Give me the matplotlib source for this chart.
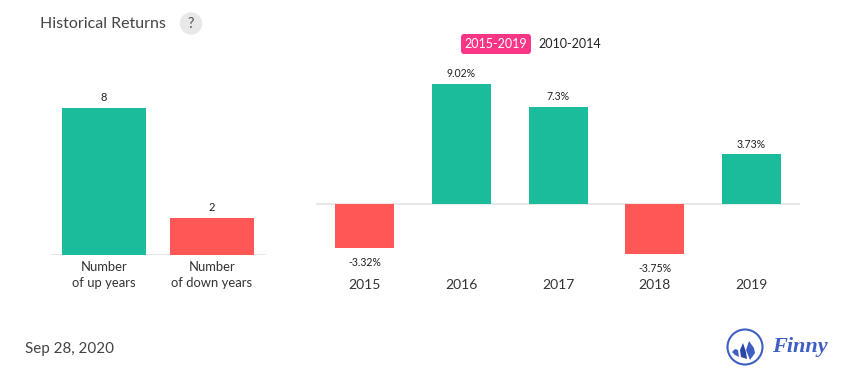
import matplotlib
matplotlib.use('Agg')
import matplotlib.pyplot as plt
from matplotlib.patches import Circle, FancyBboxPatch, Polygon

plt.rcParams['font.family'] = ['Lato', 'DejaVu Sans']

count_labels = ['Number\nof up years', 'Number\nof down years']
count_values = [8, 2]
years = ['2015', '2016', '2017', '2018', '2019']
returns = [-3.32, 9.02, 7.3, -3.75, 3.73]
return_labels = ['-3.32%', '9.02%', '7.3%', '-3.75%', '3.73%']

GREEN = '#1abc9c'
RED = '#ff5656'
GRID = '#e8e8e8'
W, H = 855, 382


def px_axes(fig, x0, y0, x1, y1):
    """Axes placed by pixel box, y measured from the top of the image."""
    ax = fig.add_axes([x0 / W, 1 - y1 / H, (x1 - x0) / W, (y1 - y0) / H])
    ax.patch.set_alpha(0)
    for s in ax.spines.values():
        s.set_visible(False)
    ax.set_yticks([])
    ax.tick_params(axis='x', length=0)
    return ax


def colors(vals):
    return [GREEN if v > 0 else RED for v in vals]


fig = plt.figure(figsize=(W / 100, H / 100), dpi=100)

# left panel
ax1 = px_axes(fig, 50, 60, 266, 255)
ax1.bar(range(2), count_values, width=0.78, color=colors([1, -1]), zorder=2)
ax1.axhline(0, color=GRID, lw=1.5, zorder=1)
ax1.set_xlim(-0.5, 1.5)
ax1.set_ylim(0, 195 / 18.35)
ax1.set_xticks(range(2), count_labels, fontsize=9.4, color='#333333', linespacing=1.42)
ax1.tick_params(axis='x', pad=4.5)
for i, v in enumerate(count_values):
    ax1.annotate(str(v), (i, v), xytext=(0, 3.5), textcoords='offset points',
                 ha='center', va='bottom', fontsize=8, color='#222222')

# right panel
ax2 = px_axes(fig, 316.3, 60, 799.8, 271)
ax2.bar(range(5), returns, width=0.61, color=colors(returns), zorder=2)
ax2.axhline(0, color=GRID, lw=1.5, zorder=1)
ax2.set_xlim(-0.5, 4.5)
ax2.set_ylim(-67 / 13.3, 144 / 13.3)
ax2.set_xticks(range(5), years, fontsize=10, color='#333333')
ax2.tick_params(axis='x', pad=5.5)
for i, v in enumerate(returns):
    if v > 0:
        ax2.annotate(return_labels[i], (i, v), xytext=(0, 3.5), textcoords='offset points',
                     ha='center', va='bottom', fontsize=7.6, color='#222222')
    else:
        ax2.annotate(return_labels[i], (i, v), xytext=(0, -6.5), textcoords='offset points',
                     ha='center', va='top', fontsize=7.6, color='#222222')

# overlay in image pixels for title, toggle, date and logo
ov = fig.add_axes([0, 0, 1, 1])
ov.set_xlim(0, W)
ov.set_ylim(H, 0)
ov.axis('off')
ov.patch.set_alpha(0)

ov.text(40, 24, 'Historical Returns', fontsize=11.5, color='#444444', va='center')
ov.add_patch(Circle((191, 23.5), 10.5, color='#e8e8e8'))
ov.text(191, 24, '?', fontsize=10.5, color='#555555', ha='center', va='center')

ov.add_patch(FancyBboxPatch((461, 34), 70, 20, boxstyle='round,pad=0,rounding_size=3',
                            fc='#fb3585', ec='none'))
ov.text(496, 44.5, '2015-2019', fontsize=9, color='white', ha='center', va='center')
ov.text(570, 44.5, '2010-2014', fontsize=9, color='#222222', ha='center', va='center')

ov.text(25, 348.5, 'Sep 28, 2020', fontsize=10.9, color='#444444', va='center')

# logo
BLUE = '#3f5fc4'
ov.add_patch(Circle((745, 347), 17.5, fc='white', ec=BLUE, lw=1.5))
ov.add_patch(Polygon([(749, 341), (754, 348), (755, 353), (750, 360), (746, 350)], fc=BLUE, ec='none'))
ov.add_patch(Polygon([(743, 343), (746, 352), (747, 359), (741, 357), (740, 350)], fc='#2a46a8', ec='none'))
ov.add_patch(Polygon([(735, 349), (738, 350), (739, 357), (735, 355), (732, 352)], fc=BLUE, ec='none'))
ov.text(799.5, 347, 'Finny', fontsize=16, color=BLUE, ha='center', va='center',
        family='Liberation Serif', style='italic', weight='bold')

fig.savefig('out.png', dpi=100)
